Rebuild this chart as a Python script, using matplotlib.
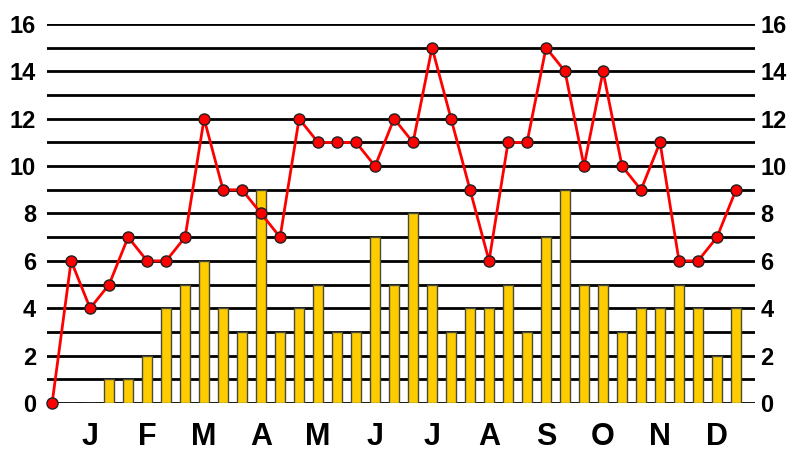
import numpy as np
import matplotlib.pyplot as plt

# weekly counts (bars) and running total (line)
bar_vals = [0, 0, 0, 1, 1, 2, 4, 5, 6, 4, 3, 9, 3, 4, 5, 3, 3, 7, 5, 8, 5, 3, 4, 4,
            5, 3, 7, 9, 5, 5, 3, 4, 4, 5, 4, 2, 4]
line_vals = [0, 6, 4, 5, 7, 6, 6, 7, 12, 9, 9, 8, 7, 12, 11, 11, 11, 10, 12, 11, 15,
             12, 9, 6, 11, 11, 15, 14, 10, 14, 10, 9, 11, 6, 6, 7, 9]
months = ['J', 'F', 'M', 'A', 'M', 'J', 'J', 'A', 'S', 'O', 'N', 'D']
month_pos = [2, 5, 8, 11, 14, 17, 20, 23, 26, 29, 32, 35]

plt.rcParams['font.family'] = ['Liberation Sans', 'DejaVu Sans']

fig = plt.figure(figsize=(7.88, 4.55), dpi=100)
ax = fig.add_axes([47/788, 1 - 403/455, 708/788, 379/455])

x = np.arange(len(line_vals))

# grid lines
for v in range(0, 17):
    ax.axhline(v, color='black', lw=2, zorder=1)

ax.bar(x, bar_vals, width=0.53, color='#FFCC00', edgecolor='#4a4a3a', lw=1, zorder=2)
ax.plot(x, line_vals, color='red', lw=2, marker='o', markersize=8,
        markerfacecolor='red', markeredgecolor='#222222', markeredgewidth=1,
        zorder=3, clip_on=False)

ax.set_xlim(-0.27, 37.0)
ax.set_ylim(0, 16)
for s in ax.spines.values():
    s.set_visible(False)

ax.set_yticks(range(0, 17, 2))
ax.tick_params(axis='y', length=0, pad=8, labelsize=17)
for lab in ax.get_yticklabels():
    lab.set_fontweight('bold')

# right side labels
ax2 = ax.twinx()
ax2.set_ylim(0, 16)
ax2.set_yticks(range(0, 17, 2))
ax2.tick_params(axis='y', length=0, pad=4, labelsize=17)
for lab in ax2.get_yticklabels():
    lab.set_fontweight('bold')
for s in ax2.spines.values():
    s.set_visible(False)

ax.set_xticks(month_pos)
ax.set_xticklabels(months, fontsize=22, fontweight='bold')
ax.tick_params(axis='x', length=0, pad=14)

fig.savefig('out.png', dpi=100)
